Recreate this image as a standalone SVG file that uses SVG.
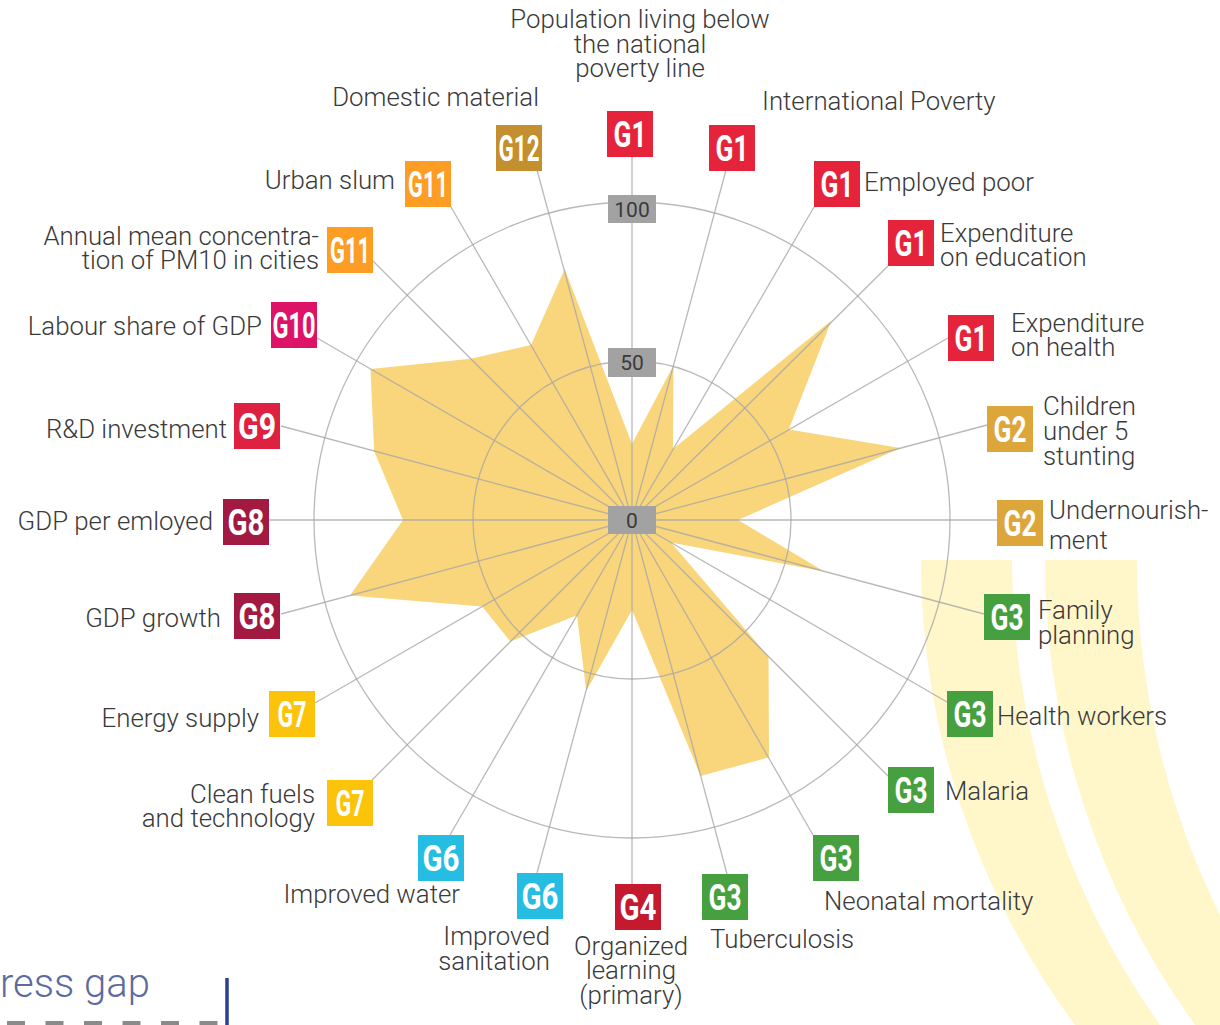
<svg xmlns="http://www.w3.org/2000/svg" width="1220" height="1025" viewBox="0 0 1220 1025">
<style>
.lbl{font-family:Roboto,"Liberation Sans",sans-serif;font-size:25.8px;font-weight:300;fill:#3a3a3a}
.e{text-anchor:end}
.m{text-anchor:middle}
.g{font-family:Roboto,"Liberation Sans",sans-serif;font-weight:bold;font-size:37px;fill:#fff;text-anchor:middle}
.ring{fill:none;stroke:#a8a8a8;stroke-width:1.3;stroke-opacity:0.8}
.spoke{stroke:#a8a8a8;stroke-width:1.3;stroke-opacity:0.8}
.val{fill:#a2a2a2}
.valt{font-family:Roboto,"Liberation Sans",sans-serif;font-size:21px;fill:#3a3a3a;text-anchor:middle}
.band{fill:#FFF6C9}
.c1{fill:#E5243B}.c2{fill:#DDA63A}.c3{fill:#47A040}.c4{fill:#C5192D}.c6{fill:#26BDE2}.c7{fill:#FCC30B}.c8{fill:#A21942}.c9{fill:#DE2140}.c10{fill:#DD1367}.c11{fill:#FD9D24}.c12{fill:#C48F2E}
</style>
<rect width="1220" height="1025" fill="#fff"/>
<g id="bands">
<path class="band" d="M 921 560 L 1012 560 A 805 805 0 0 0 1160 1025 L 1075 1025 A 779 779 0 0 1 921 560 Z"/>
<path class="band" d="M 1045 560 L 1137 560 A 800 800 0 0 0 1286 1025 L 1195 1025 A 796 796 0 0 1 1045 560 Z"/>
</g>
<g id="data">
<polygon fill="#F9D57B" points="632,444 673.4,365.5 673,449 831.4,320.6 788.7,429.5 900.5,448 738,520 824.2,571.5 671,542.5 768.5,656.5 769,757.3 700.6,776 632,610 586.2,691 577,615.3 510.4,641.6 482.2,606.5 350,595.6 403,520 374.1,450.9 370.5,369 470.8,358.8 531,345 564.7,268.9"/>
</g>
<g id="grid">
<circle class="ring" cx="632" cy="520" r="159"/>
<circle class="ring" cx="632" cy="520" r="318"/>
</g>
<g id="connectors">
<line class="spoke" x1="632" y1="520" x2="632" y2="157"/>
<line class="spoke" x1="632" y1="520" x2="726" y2="170"/>
<line class="spoke" x1="632" y1="520" x2="814" y2="207"/>
<line class="spoke" x1="632" y1="520" x2="888" y2="266"/>
<line class="spoke" x1="632" y1="520" x2="948" y2="338"/>
<line class="spoke" x1="632" y1="520" x2="987" y2="425"/>
<line class="spoke" x1="632" y1="520" x2="997" y2="520"/>
<line class="spoke" x1="632" y1="520" x2="984" y2="614"/>
<line class="spoke" x1="632" y1="520" x2="947" y2="702"/>
<line class="spoke" x1="632" y1="520" x2="888" y2="776"/>
<line class="spoke" x1="632" y1="520" x2="813" y2="835"/>
<line class="spoke" x1="632" y1="520" x2="727" y2="874"/>
<line class="spoke" x1="632" y1="520" x2="632" y2="884"/>
<line class="spoke" x1="632" y1="520" x2="537" y2="873"/>
<line class="spoke" x1="632" y1="520" x2="450" y2="835"/>
<line class="spoke" x1="632" y1="520" x2="372" y2="780"/>
<line class="spoke" x1="632" y1="520" x2="315" y2="703"/>
<line class="spoke" x1="632" y1="520" x2="281" y2="614"/>
<line class="spoke" x1="632" y1="520" x2="269" y2="520"/>
<line class="spoke" x1="632" y1="520" x2="281" y2="426"/>
<line class="spoke" x1="632" y1="520" x2="317" y2="338"/>
<line class="spoke" x1="632" y1="520" x2="373" y2="261"/>
<line class="spoke" x1="632" y1="520" x2="451" y2="207"/>
<line class="spoke" x1="632" y1="520" x2="537" y2="170"/>
</g>
<g id="scale">
<rect class="val" x="608" y="195" width="48" height="28"/><text class="valt" x="632" y="216.5">100</text>
<rect class="val" x="608" y="348" width="48" height="29"/><text class="valt" x="632" y="370">50</text>
<rect class="val" x="608" y="506" width="48" height="28"/><text class="valt" x="632" y="527.5">0</text>
</g>
<g id="n0"><rect class="c1" x="607" y="111" width="46" height="46"/><text class="g" x="630" y="147" textLength="33" lengthAdjust="spacingAndGlyphs">G1</text>
<text class="lbl m" x="640" y="28">Population living below</text><text class="lbl m" x="640" y="53">the national</text><text class="lbl m" x="640" y="77">poverty line</text></g>
<g id="n1"><rect class="c1" x="709" y="125" width="46" height="46"/><text class="g" x="732" y="161" textLength="33" lengthAdjust="spacingAndGlyphs">G1</text>
<text class="lbl" x="762" y="110">International Poverty</text></g>
<g id="n2"><rect class="c1" x="814" y="161" width="46" height="46"/><text class="g" x="837" y="197" textLength="33" lengthAdjust="spacingAndGlyphs">G1</text>
<text class="lbl" x="864" y="191">Employed poor</text></g>
<g id="n3"><rect class="c1" x="888" y="220" width="46" height="46"/><text class="g" x="911" y="256" textLength="33" lengthAdjust="spacingAndGlyphs">G1</text>
<text class="lbl" x="940" y="242">Expenditure</text><text class="lbl" x="940" y="266">on education</text></g>
<g id="n4"><rect class="c1" x="948" y="315" width="46" height="46"/><text class="g" x="971" y="351" textLength="33" lengthAdjust="spacingAndGlyphs">G1</text>
<text class="lbl" x="1011" y="332">Expenditure</text><text class="lbl" x="1011" y="356">on health</text></g>
<g id="n5"><rect class="c2" x="987" y="406" width="46" height="46"/><text class="g" x="1010" y="442" textLength="33" lengthAdjust="spacingAndGlyphs">G2</text>
<text class="lbl" x="1043" y="415">Children</text><text class="lbl" x="1043" y="440">under 5</text><text class="lbl" x="1043" y="465">stunting</text></g>
<g id="n6"><rect class="c2" x="997" y="500" width="46" height="46"/><text class="g" x="1020" y="536" textLength="33" lengthAdjust="spacingAndGlyphs">G2</text>
<text class="lbl" x="1049" y="519">Undernourish-</text><text class="lbl" x="1049" y="549">ment</text></g>
<g id="n7"><rect class="c3" x="984" y="594" width="46" height="46"/><text class="g" x="1007" y="630" textLength="33" lengthAdjust="spacingAndGlyphs">G3</text>
<text class="lbl" x="1038" y="619">Family</text><text class="lbl" x="1038" y="644">planning</text></g>
<g id="n8"><rect class="c3" x="947" y="691" width="46" height="46"/><text class="g" x="970" y="727" textLength="33" lengthAdjust="spacingAndGlyphs">G3</text>
<text class="lbl" x="997" y="725">Health workers</text></g>
<g id="n9"><rect class="c3" x="888" y="767" width="46" height="46"/><text class="g" x="911" y="803" textLength="33" lengthAdjust="spacingAndGlyphs">G3</text>
<text class="lbl" x="945" y="800">Malaria</text></g>
<g id="n10"><rect class="c3" x="813" y="835" width="46" height="46"/><text class="g" x="836" y="871" textLength="33" lengthAdjust="spacingAndGlyphs">G3</text>
<text class="lbl" x="824" y="910">Neonatal mortality</text></g>
<g id="n11"><rect class="c3" x="702" y="874" width="46" height="46"/><text class="g" x="725" y="910" textLength="33" lengthAdjust="spacingAndGlyphs">G3</text>
<text class="lbl" x="710" y="948">Tuberculosis</text></g>
<g id="n12"><rect class="c4" x="615" y="884" width="46" height="46"/><text class="g" x="638" y="920" textLength="37" lengthAdjust="spacingAndGlyphs">G4</text>
<text class="lbl m" x="631" y="955">Organized</text><text class="lbl m" x="631" y="979">learning</text><text class="lbl m" x="631" y="1004">(primary)</text></g>
<g id="n13"><rect class="c6" x="517" y="873" width="46" height="46"/><text class="g" x="540" y="909" textLength="37" lengthAdjust="spacingAndGlyphs">G6</text>
<text class="lbl e" x="550" y="945">Improved</text><text class="lbl e" x="550" y="970">sanitation</text></g>
<g id="n14"><rect class="c6" x="418" y="835" width="46" height="46"/><text class="g" x="441" y="871" textLength="37" lengthAdjust="spacingAndGlyphs">G6</text>
<text class="lbl e" x="460" y="903">Improved water</text></g>
<g id="n15"><rect class="c7" x="327" y="780" width="46" height="46"/><text class="g" x="350" y="816" textLength="29" lengthAdjust="spacingAndGlyphs">G7</text>
<text class="lbl e" x="315" y="803">Clean fuels</text><text class="lbl e" x="315" y="827">and technology</text></g>
<g id="n16"><rect class="c7" x="269" y="691" width="46" height="46"/><text class="g" x="292" y="727" textLength="29" lengthAdjust="spacingAndGlyphs">G7</text>
<text class="lbl e" x="259" y="727">Energy supply</text></g>
<g id="n17"><rect class="c8" x="234" y="593" width="46" height="46"/><text class="g" x="257" y="629" textLength="37" lengthAdjust="spacingAndGlyphs">G8</text>
<text class="lbl e" x="221" y="627">GDP growth</text></g>
<g id="n18"><rect class="c8" x="223" y="499" width="46" height="46"/><text class="g" x="246" y="535" textLength="37" lengthAdjust="spacingAndGlyphs">G8</text>
<text class="lbl e" x="213" y="530">GDP per emloyed</text></g>
<g id="n19"><rect class="c9" x="234" y="403" width="46" height="46"/><text class="g" x="257" y="439" textLength="38" lengthAdjust="spacingAndGlyphs">G9</text>
<text class="lbl e" x="227" y="438">R&amp;D investment</text></g>
<g id="n20"><rect class="c10" x="271" y="302" width="46" height="46"/><text class="g" x="294" y="338" textLength="43" lengthAdjust="spacingAndGlyphs">G10</text>
<text class="lbl e" x="262" y="335">Labour share of GDP</text></g>
<g id="n21"><rect class="c11" x="327" y="227" width="46" height="46"/><text class="g" x="350" y="263" textLength="40" lengthAdjust="spacingAndGlyphs">G11</text>
<text class="lbl e" x="319" y="245">Annual mean concentra-</text><text class="lbl e" x="319" y="269">tion of PM10 in cities</text></g>
<g id="n22"><rect class="c11" x="405" y="161" width="46" height="46"/><text class="g" x="428" y="197" textLength="40" lengthAdjust="spacingAndGlyphs">G11</text>
<text class="lbl e" x="395" y="189">Urban slum</text></g>
<g id="n23"><rect class="c12" x="496" y="125" width="46" height="46"/><text class="g" x="519" y="161" textLength="41" lengthAdjust="spacingAndGlyphs">G12</text>
<text class="lbl e" x="539" y="106">Domestic material</text></g>
<g id="legend">
<text x="0" y="997" font-family="Roboto,'Liberation Sans',sans-serif" font-size="40" font-weight="300" fill="#5B6B9E">ress gap</text>
<line x1="7" y1="1023" x2="222" y2="1023" stroke="#8a8a8a" stroke-width="4" stroke-dasharray="18 20.5"/>
<line x1="227" y1="978" x2="227" y2="1025" stroke="#2B3F8F" stroke-width="3.5"/>
</g>
</svg>
